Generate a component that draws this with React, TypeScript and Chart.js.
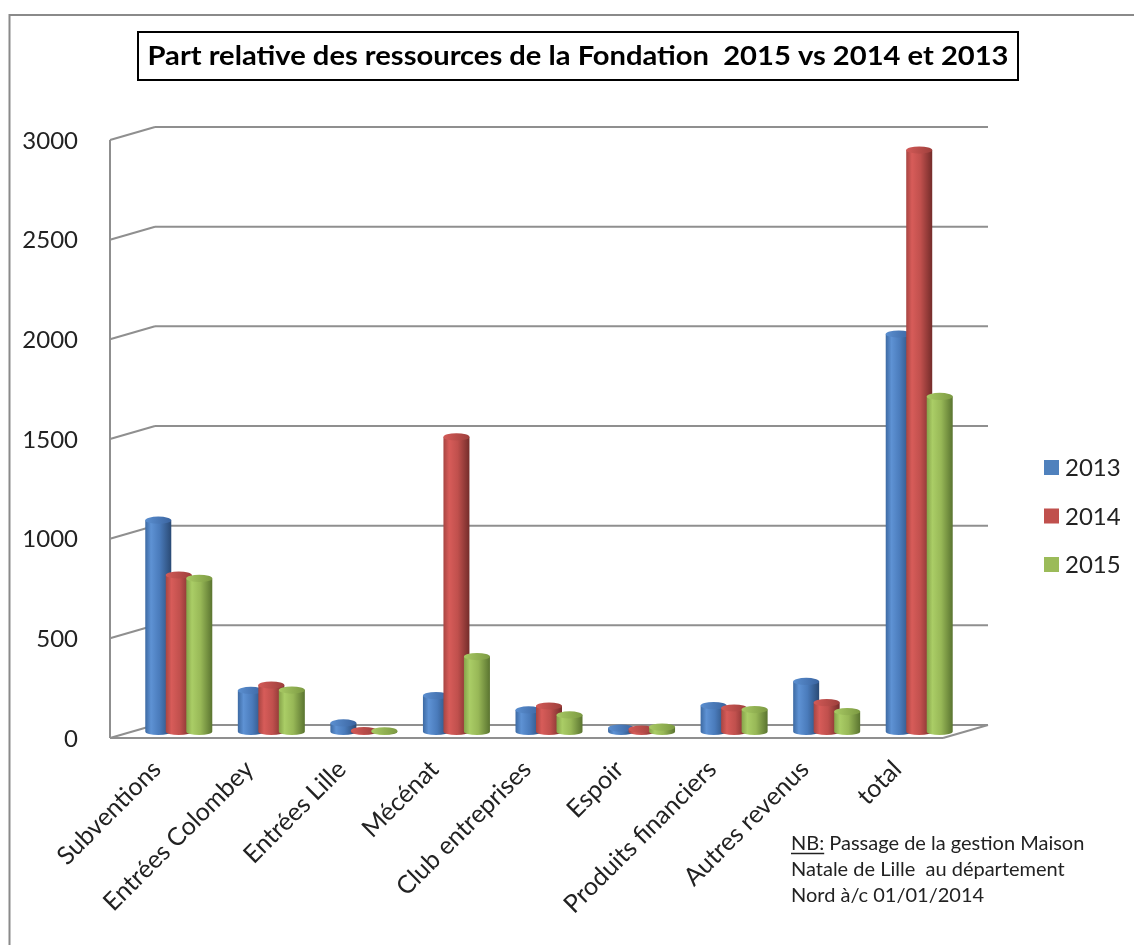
import React, { useEffect, useRef } from 'react';
import { Chart, registerables } from 'chart.js';

Chart.register(...registerables);

// ---- data ----
const categories = [
  'Subventions',
  'Entrées Colombey',
  'Entrées Lille',
  'Mécénat',
  'Club entreprises',
  'Espoir',
  'Produits financiers',
  'Autres revenus',
  'total',
];
const seriesLabels = ['2013', '2014', '2015'];
const values2013 = [1060, 206, 43, 180, 108, 17, 130, 251, 1994];
const values2014 = [785, 233, 5, 1478, 128, 12, 118, 145, 2917];
const values2015 = [768, 208, 3, 376, 83, 22, 110, 100, 1681];
const yMin = 0;
const yMax = 3000;
const yStep = 500;

const titleText = 'Part relative des ressources de la Fondation  2015 vs 2014 et 2013';
const noteLines = [
  'Passage de la gestion Maison',
  'Natale de Lille  au département',
  'Nord à/c 01/01/2014',
];
const notePrefix = 'NB:';

// ---- styles ----
const FONT = 'Lato, "Open Sans", "DejaVu Sans", sans-serif';
const TEXT = '#222222';
const GRID = '#8f8f8f';
const BASE_COLORS = ['#4F81BD', '#C0504D', '#9BBB59'];
const SHADES = [
  { edge: '#3d6aa3', light: '#5e92d4', mid: '#4a7bbb', dark: '#2a4a75', topL: '#5b8fd0', topR: '#3a64a0' },
  { edge: '#a84542', light: '#d75c59', mid: '#c0504d', dark: '#742c2a', topL: '#d35a57', topR: '#9e3f3c' },
  { edge: '#86a34a', light: '#aacd66', mid: '#98b857', dark: '#5a7430', topL: '#a8c964', topR: '#7c9a42' },
];
const DX = 22.5;
const DY = 6.5;

function line(ctx: CanvasRenderingContext2D, x1: number, y1: number, x2: number, y2: number) {
  ctx.beginPath();
  ctx.moveTo(x1, y1);
  ctx.lineTo(x2, y2);
  ctx.stroke();
}

const wallsPlugin = {
  id: 'walls3d',
  beforeDatasetsDraw(chart: any) {
    const { ctx, chartArea: a } = chart;
    const y = chart.scales.y;
    const fl = a.left - DX;
    const bl = a.left + DX;
    const fr = a.right - DX;
    const br = a.right + DX;
    ctx.save();
    ctx.strokeStyle = GRID;
    ctx.lineWidth = 2;
    ctx.lineCap = 'butt';
    for (const t of y.ticks) {
      const ym = y.getPixelForValue(t.value);
      line(ctx, bl, ym - DY, br, ym - DY);
      line(ctx, fl, ym + DY, bl, ym - DY);
    }
    const yTop = y.getPixelForValue(yMax);
    const y0 = y.getPixelForValue(yMin);
    line(ctx, fl, yTop + DY, fl, y0 + DY);
    line(ctx, fl, y0 + DY, fr, y0 + DY);
    line(ctx, fr, y0 + DY, br, y0 - DY);
    ctx.restore();
  },
};

function drawCylinder(ctx: CanvasRenderingContext2D, x: number, top: number, base: number, w: number, s: any) {
  const l = x - w / 2;
  const r = x + w / 2;
  const rx = w / 2;
  const ry = 3.6;
  const g = ctx.createLinearGradient(l, 0, r, 0);
  g.addColorStop(0, s.edge);
  g.addColorStop(0.22, s.light);
  g.addColorStop(0.55, s.mid);
  g.addColorStop(1, s.dark);
  ctx.beginPath();
  ctx.moveTo(l, top);
  ctx.lineTo(l, base);
  ctx.ellipse(x, base, rx, ry, 0, Math.PI, 0, true);
  ctx.lineTo(r, top);
  ctx.closePath();
  ctx.fillStyle = g;
  ctx.fill();
  const gt = ctx.createLinearGradient(l, 0, r, 0);
  gt.addColorStop(0, s.topL);
  gt.addColorStop(1, s.topR);
  ctx.beginPath();
  ctx.ellipse(x, top, rx, ry, 0, 0, Math.PI * 2);
  ctx.fillStyle = gt;
  ctx.fill();
}

const cylinderPlugin = {
  id: 'cylinders',
  afterDatasetsDraw(chart: any) {
    const { ctx } = chart;
    ctx.save();
    chart.data.datasets.forEach((_ds: any, d: number) => {
      const meta = chart.getDatasetMeta(d);
      meta.data.forEach((el: any) => {
        const p = el.getProps(['x', 'y', 'base', 'width'], true);
        drawCylinder(ctx, p.x, p.y, p.base, p.width, SHADES[d]);
      });
    });
    ctx.restore();
  },
};

const decorPlugin = {
  id: 'decor',
  afterDraw(chart: any) {
    const { ctx } = chart;
    ctx.save();
    // outer frame (cropped)
    ctx.strokeStyle = '#8a8a8a';
    ctx.lineWidth = 2;
    ctx.beginPath();
    ctx.moveTo(9.5, 946);
    ctx.lineTo(9.5, 15);
    ctx.lineTo(1135, 15);
    ctx.stroke();

    // title box
    ctx.strokeStyle = '#000';
    ctx.lineWidth = 2;
    ctx.strokeRect(138, 32, 880, 48);
    ctx.font = `bold 26px ${FONT}`;
    const w = ctx.measureText(titleText).width;
    const sx = 861 / w;
    ctx.fillStyle = '#000';
    ctx.textAlign = 'center';
    ctx.textBaseline = 'alphabetic';
    ctx.save();
    ctx.translate(578, 65);
    ctx.scale(sx, 1);
    ctx.fillText(titleText, 0, 0);
    ctx.restore();

    // legend
    ctx.font = `24px ${FONT}`;
    ctx.textAlign = 'left';
    ctx.textBaseline = 'middle';
    chart.data.datasets.forEach((ds: any, i: number) => {
      const cy = 467.5 + i * 48.5;
      ctx.fillStyle = BASE_COLORS[i];
      ctx.fillRect(1044, cy - 7.5, 15, 15);
      ctx.fillStyle = TEXT;
      ctx.fillText(ds.label, 1065, cy + 1);
    });

    // note
    ctx.font = `20px ${FONT}`;
    ctx.textBaseline = 'alphabetic';
    ctx.fillStyle = TEXT;
    const nx = 791;
    const pw = ctx.measureText(notePrefix).width;
    ctx.fillText(notePrefix, nx, 850);
    ctx.strokeStyle = TEXT;
    ctx.lineWidth = 1.3;
    line(ctx, nx, 853.5, nx + pw, 853.5);
    ctx.fillText(' ' + noteLines[0], nx + pw, 850);
    ctx.fillText(noteLines[1], nx, 876);
    ctx.fillText(noteLines[2], nx, 902);
    ctx.restore();
  },
};

export default function App() {
  const canvasRef = useRef<HTMLCanvasElement | null>(null);

  useEffect(() => {
    if (!canvasRef.current) return;
    const chart = new Chart(canvasRef.current, {
      type: 'bar',
      data: {
        labels: categories,
        datasets: [
          { label: seriesLabels[0], data: values2013, backgroundColor: 'rgba(0,0,0,0)' },
          { label: seriesLabels[1], data: values2014, backgroundColor: 'rgba(0,0,0,0)' },
          { label: seriesLabels[2], data: values2015, backgroundColor: 'rgba(0,0,0,0)' },
        ],
      },
      options: {
        responsive: false,
        animation: false,
        devicePixelRatio: 1,
        events: [],
        layout: { padding: { left: 0, top: 133.5, right: 168.5, bottom: 0 } },
        datasets: {
          bar: { categoryPercentage: 0.6645, barPercentage: 1.268 },
        },
        plugins: {
          legend: { display: false },
          title: { display: false },
          tooltip: { enabled: false },
        },
        scales: {
          x: {
            grid: { display: false },
            border: { display: false },
            ticks: {
              autoSkip: false,
              maxRotation: 45,
              minRotation: 45,
              padding: 15,
              labelOffset: -22,
              color: TEXT,
              font: { family: FONT, size: 25 },
            },
            afterFit(scale: any) {
              scale.height = 213.5;
            },
          },
          y: {
            min: yMin,
            max: yMax,
            grid: { display: false },
            border: { display: false },
            ticks: {
              stepSize: yStep,
              padding: 46.5,
              labelOffset: 7.5,
              color: TEXT,
              font: { family: FONT, size: 24 },
              callback: (v: any) => String(v),
            },
            afterFit(scale: any) {
              scale.width = 132.5;
            },
          },
        },
      },
      plugins: [wallsPlugin, cylinderPlugin, decorPlugin],
    });
    return () => {
      chart.destroy();
    };
  }, []);

  return (
    <div style={{ position: 'absolute', left: 0, top: 0, width: 1134, height: 945, background: '#fff' }}>
      <canvas ref={canvasRef} width={1134} height={945} style={{ display: 'block' }} />
    </div>
  );
}
